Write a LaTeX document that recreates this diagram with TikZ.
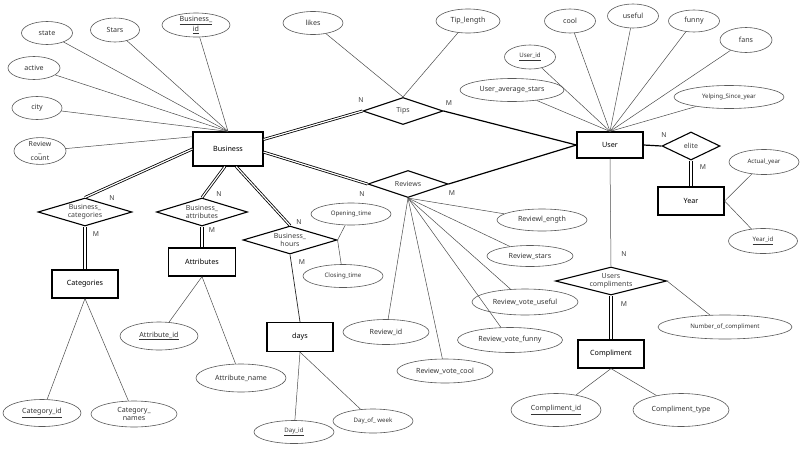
\documentclass[tikz,border=0pt]{standalone}
\usepackage{fontspec}
\setmainfont{Noto Sans}
\usetikzlibrary{shapes.geometric}
\tikzset{
  ent/.style 2 args={draw, line width=1.2pt, minimum width=#1, minimum height=#2, inner sep=0pt, font=\fontsize{7.2}{8}\selectfont\bfseries},
  rel/.style 2 args={diamond, draw, line width=1.1pt, aspect=3.5, inner sep=0pt, minimum width=#1, minimum height=#2, font=\fontsize{7}{7.8}\selectfont, text=black!75, align=center},
  att/.style 2 args={ellipse, draw=black!65, line width=0.6pt, inner sep=0pt, minimum width=#1, minimum height=#2, font=\fontsize{7.1}{7.8}\selectfont, text=black!80, align=center},
  sm/.style={font=\fontsize{6.1}{7}\selectfont},
  aline/.style={draw=black!70, line width=0.5pt},
  rline/.style={line width=1.2pt},
  dline/.style={double, double distance=1.2pt, line width=0.8pt},
  vline/.style={line width=1pt},
  card/.style={font=\fontsize{6.8}{7.6}\selectfont, text=black!75, inner sep=0pt}
}
\begin{document}
\begin{tikzpicture}[x=1pt,y=-1pt]
\useasboundingbox[fill=white] (0,0) rectangle (800,450);
% entities
\node[ent={70pt}{34pt}] (biz) at (228,149) {Business};
\node[ent={66pt}{26pt}] (user) at (610,145) {User};
\node[ent={66pt}{28pt}] (cat) at (85,284) {Categories};
\node[ent={67pt}{28pt}] (attrs) at (202,262) {Attributes};
\node[ent={66pt}{29pt}] (days) at (300,337) {days};
\node[ent={66pt}{28pt}] (year) at (691,201) {Year};
\node[ent={66pt}{28pt}] (compl) at (611,354) {Compliment};
% relationships
\node[rel={80pt}{27pt}] (tips) at (403,111) {Tips};
\node[rel={80pt}{27pt}] (reviews) at (408,184) {Reviews};
\node[rel={58pt}{28pt}] (elite) at (691,146) {elite};
\node[rel={94pt}{28pt}] (bcat) at (85,212) {Business\_\\categories};
\node[rel={91pt}{28pt}] (battr) at (202,212) {Business\_\\attributes};
\node[rel={94pt}{28pt}] (bhours) at (290,240) {Business\_\\hours};
\node[rel={111pt}{28pt}, aspect=4] (ucompl) at (611,281) {Users\\compliments};
% attributes
\node[att={51pt}{23pt}] (state) at (47,33) {state};
\node[att={49pt}{24pt}] (stars) at (115,30) {Stars};
\node[att={68pt}{24pt}] (bid) at (196,25) {\bfseries\underline{Business\_}\\\bfseries\underline{id}};
\node[att={52pt}{23pt}] (active) at (34,68) {active};
\node[att={50pt}{23pt}] (city) at (37,108) {city};
\node[att={52pt}{26pt}, font=\fontsize{6.9}{6.9}\selectfont] (rcount) at (40,151) {Review\\\_\\count};
\node[att={60pt}{23pt}] (likes) at (313,23) {likes};
\node[att={64pt}{24pt}] (tiplen) at (468,21) {Tip\_length};
\node[att={51pt}{24pt}, sm] (uid) at (530,57) {\underline{User\_id}};
\node[att={104pt}{23pt}] (uavg) at (512,90) {User\_average\_stars};
\node[att={51pt}{24pt}] (cool) at (570,21) {cool};
\node[att={51pt}{24pt}] (useful) at (633,16) {useful};
\node[att={51pt}{22pt}] (funny) at (694,21) {funny};
\node[att={52pt}{25pt}] (fans) at (746,40) {fans};
\node[att={110pt}{23pt}, sm] (yelp) at (729,97) {Yelping\_Since\_year};
\node[att={70pt}{25pt}, sm] (actual) at (764,162) {Actual\_year};
\node[att={69pt}{25pt}, sm] (yid) at (763,241) {\underline{Year\_id}};
\node[att={134pt}{24pt}, sm] (ncompl) at (725,327) {Number\_of\_compliment};
\node[att={90pt}{33pt}] (cid) at (556,410) {\bfseries\underline{Compliment\_id}};
\node[att={96pt}{33pt}] (ctype) at (681,410) {Compliment\_type};
\node[att={80pt}{22pt}, sm] (open) at (351,214) {Opening\_time};
\node[att={80pt}{23pt}, sm] (close) at (343,276) {Closing\_time};
\node[att={90pt}{22pt}] (rlen) at (542,220) {Reviewl\_ength};
\node[att={86pt}{21pt}] (rstars) at (530,256) {Review\_stars};
\node[att={106pt}{26pt}] (rvu) at (525,302) {Review\_vote\_useful};
\node[att={105pt}{25pt}] (rvf) at (510,340) {Review\_vote\_funny};
\node[att={96pt}{24pt}] (rvc) at (445,371) {Review\_vote\_cool};
\node[att={86pt}{25pt}] (rid) at (386,332) {Review\_id};
\node[att={78pt}{28pt}] (aid) at (159,336) {\bfseries\underline{Attribute\_id}};
\node[att={90pt}{28pt}] (aname) at (241,378) {Attribute\_name};
\node[att={78pt}{27pt}] (catid) at (42,413) {\bfseries\underline{Category\_id}};
\node[att={86pt}{26pt}] (catnames) at (134,414) {Category\_\\names};
\node[att={80pt}{23pt}, sm] (dayid) at (294,432) {\underline{Day\_id}};
\node[att={80pt}{24pt}, sm] (dow) at (373,421) {Day\_of\_ week};
% attribute lines
\foreach \a in {state,stars,bid,active,city} \draw[aline] (\a) -- (biz.north);
\draw[aline] (rcount) -- (biz.161);
\foreach \a in {likes,tiplen} \draw[aline] (\a) -- (tips.north);
\foreach \a in {uid,uavg,cool,useful,funny,fans,yelp} \draw[aline] (\a) -- (user.north);
\foreach \a in {rlen,rstars,rvu,rvf,rvc,rid} \draw[aline] (\a) -- (reviews.south);
\foreach \a in {actual,yid} \draw[aline] (\a) -- (year.east);
\foreach \a in {cid,ctype} \draw[aline] (\a) -- (compl.south);
\foreach \a in {catid,catnames} \draw[aline] (\a) -- (cat.south);
\foreach \a in {aid,aname} \draw[aline] (\a) -- (attrs.south);
\foreach \a in {dayid,dow} \draw[aline] (\a) -- (days.south);
\foreach \a in {open,close} \draw[aline] (\a) -- (bhours.east);
\draw[aline] (ucompl.east) -- (ncompl);
% relationship lines
\draw[dline] (biz.15) -- (tips.west);
\draw[rline] (tips.east) -- (user.west);
\draw[dline] (biz.-5) -- (reviews.west);
\draw[rline] (reviews.east) -- (user.west);
\draw[dline] (biz.west) -- (bcat.north);
\draw[dline] (biz.-100) -- (battr.north);
\draw[dline] (biz.-65) -- (bhours.north);
\draw[aline, draw=black!85, line width=0.7pt] (bhours.south) -- (days.north);
\draw[rline] (user.east) -- (elite.west);
\draw[aline] (user.south) -- (ucompl.north);
% vertical double connectors
\foreach \s/\t in {bcat/cat, battr/attrs, elite/year, ucompl/compl} {
  \draw[vline] ([xshift=-1.1pt]\s.south) -- ([xshift=-1.1pt]\t.north);
  \draw[vline] ([xshift=1.1pt]\s.south) -- ([xshift=1.1pt]\t.north);
}
% cardinalities
\node[card] (c1) at (361,100) {N};
\node[card] (c2) at (449,103) {M};
\node[card] (c3) at (362,194) {N};
\node[card] (c4) at (452,193) {M};
\node[card] (c5) at (664,135) {N};
\node[card] (c6) at (703,167) {M};
\node[card] (c7) at (112,198) {N};
\node[card] (c8) at (96,234) {M};
\node[card] (c9) at (219,194) {N};
\node[card] (c10) at (212,230) {M};
\node[card] (c11) at (299,222) {N};
\node[card] (c12) at (302,262) {M};
\node[card] (c13) at (624,254) {N};
\node[card] (c14) at (624,304) {M};
\end{tikzpicture}
\end{document}
